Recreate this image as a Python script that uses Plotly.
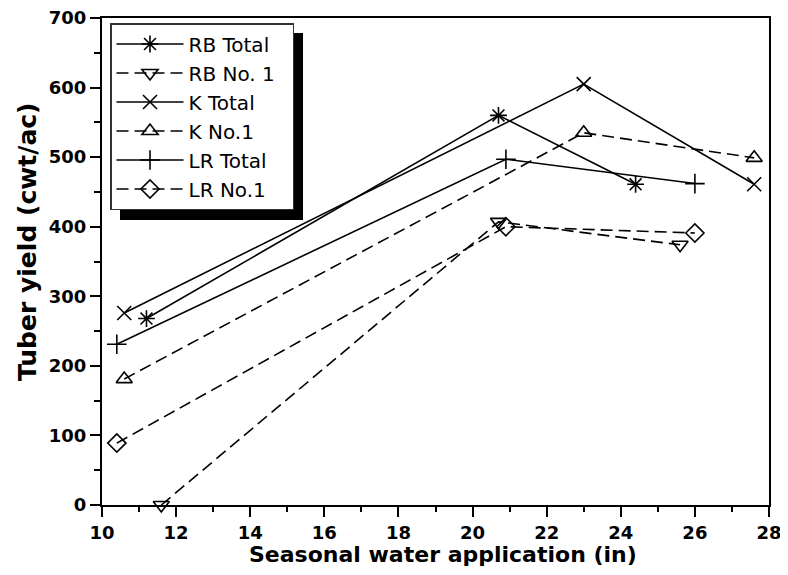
import plotly.graph_objects as go

# Data
series_names = ["RB Total", "RB No. 1", "K Total", "K No.1", "LR Total", "LR No.1"]
rb_x = [11.2, 20.7, 24.4]
rb_total = [268, 560, 461]
rb_no1_x = [11.6, 20.7, 25.6]
rb_no1 = [0, 407, 374]
k_x = [10.6, 23.0, 27.6]
k_total = [276, 605, 461]
k_no1 = [181, 535, 499]
lr_x = [10.4, 20.9, 26.0]
lr_total = [231, 497, 462]
lr_no1 = [89, 400, 391]

x_ticks = list(range(10, 29, 2))
y_ticks = list(range(0, 701, 100))

x_title = "Seasonal water application (in)"
y_title = "Tuber yield (cwt/ac)"

FONT = "DejaVu Sans, Arial, sans-serif"

specs = [
    (series_names[0], rb_x, rb_total, "asterisk-open", "solid"),
    (series_names[1], rb_no1_x, rb_no1, "triangle-down-open", "12px,6px"),
    (series_names[2], k_x, k_total, "x-thin-open", "solid"),
    (series_names[3], k_x, k_no1, "triangle-up-open", "12px,6px"),
    (series_names[4], lr_x, lr_total, "cross-thin-open", "solid"),
    (series_names[5], lr_x, lr_no1, "diamond-open", "12px,6px"),
]

fig = go.Figure()
for i, (name, xs, ys, sym, dash) in enumerate(specs):
    fig.add_trace(go.Scatter(
        x=xs, y=ys, name=name + "\u00a0\u00a0", mode="lines+markers", cliponaxis=False,
        line=dict(color="black", width=1.6, dash=dash),
        marker=dict(symbol=sym, size=14, color="black",
                    line=dict(color="black", width=1.6)),
    ))

# The page body has an 8px margin; plot area in window pixels:
OFF = 8
L, R, T, B = 102, 769, 18, 505
W = float(R - L)
H = float(B - T)
def px(xp):
    return (xp - L) / W
def py(yp):
    return 1 - (yp - T) / H

# legend drop shadow
fig.add_shape(type="rect", xref="paper", yref="paper",
              x0=px(120), x1=px(303), y0=py(220), y1=py(33),
              fillcolor="black", line=dict(width=0), layer="above")

# axis titles
fig.add_annotation(text=f"<b>{x_title}</b>", xref="paper", yref="paper",
                   x=px(443), y=py(554), xanchor="center", yanchor="middle",
                   showarrow=False, font=dict(size=22, family=FONT, color="black"))
fig.add_annotation(text=f"<b>{y_title}</b>", xref="paper", yref="paper",
                   x=px(28), y=py(242), xanchor="center", yanchor="middle",
                   textangle=-90, showarrow=False,
                   font=dict(size=25, family=FONT, color="black"))

fig.update_layout(
    width=788 - OFF, height=575 - OFF,
    margin=dict(l=L - OFF, r=(788 - OFF) - (R - OFF), t=T - OFF,
                b=(575 - OFF) - (B - OFF), autoexpand=False),
    paper_bgcolor="white", plot_bgcolor="white",
    font=dict(family=FONT, color="black"),
    showlegend=True,
    legend=dict(
        x=px(110), y=py(23),
        xanchor="left", yanchor="top",
        bgcolor="white", bordercolor="#333", borderwidth=1.5,
        font=dict(size=20, family=FONT, color="black"),
        itemwidth=67,
    ),
    xaxis=dict(
        range=[10, 28], tickvals=x_ticks, ticktext=[f"<b>{v}</b>" for v in x_ticks],
        showgrid=False, zeroline=False, automargin=False,
        showline=True, linecolor="black", linewidth=2, mirror=True,
        ticks="outside", ticklen=10, tickwidth=2, tickcolor="black",
        minor=dict(dtick=1, ticks="outside", ticklen=5, tickwidth=2, tickcolor="black"),
        tickfont=dict(size=18, family=FONT, color="black"),
        ticklabeloverflow="allow",
    ),
    yaxis=dict(
        range=[0, 700], tickvals=y_ticks, ticktext=[f"<b>{v}</b>" for v in y_ticks],
        showgrid=False, zeroline=False, automargin=False,
        showline=True, linecolor="black", linewidth=2, mirror=True,
        ticks="outside", ticklen=10, tickwidth=2, tickcolor="black",
        minor=dict(dtick=50, ticks="outside", ticklen=6, tickwidth=2, tickcolor="black"),
        tickfont=dict(size=18, family=FONT, color="black"),
        ticklabeloverflow="allow",
    ),
)

fig.write_html("out.html")
